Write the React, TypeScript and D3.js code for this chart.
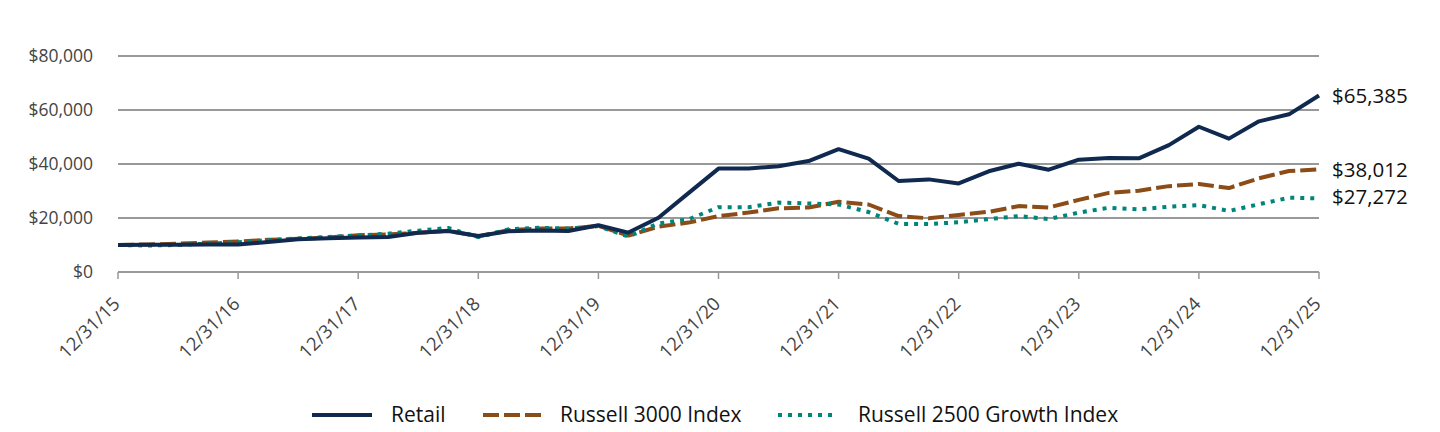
import React from 'react';
import * as d3 from 'd3';

// quarterly values, 12/31/15 .. 12/31/25
const retail = [10000, 10050, 10100, 10200, 10150, 11100, 12100, 12500, 12800, 13000, 14500, 15200, 13300, 15100, 15400, 15200, 17300, 14600, 20100, 29200, 38300, 38300, 39200, 41100, 45500, 42000, 33700, 34300, 32800, 37300, 40100, 37900, 41600, 42200, 42100, 47000, 53800, 49400, 55800, 58400, 65385];
const russell3000 = [10000, 10200, 10500, 10900, 11300, 11900, 12300, 12800, 13600, 13900, 14500, 15300, 13200, 15500, 16100, 16100, 17100, 13500, 16800, 18300, 20700, 22000, 23600, 23900, 26000, 25000, 20700, 19900, 21100, 22300, 24400, 23900, 26700, 29300, 30100, 31800, 32600, 31100, 34700, 37400, 38012];
const russell2500g = [10000, 9800, 10000, 10500, 11000, 11800, 12400, 13000, 13500, 14200, 15300, 16300, 12900, 15800, 16400, 16100, 17000, 13100, 18000, 19500, 24000, 24000, 25700, 25400, 25000, 22200, 17800, 17800, 18400, 19600, 20700, 19600, 22000, 23800, 23200, 24200, 24800, 22600, 25100, 27500, 27272];

const yearLabels = ['12/31/15', '12/31/16', '12/31/17', '12/31/18', '12/31/19', '12/31/20', '12/31/21', '12/31/22', '12/31/23', '12/31/24', '12/31/25'];
const yTicks = [0, 20000, 40000, 60000, 80000];

const series = [
  { name: 'Russell 3000 Index', values: russell3000, color: '#8b4c17', dash: '16 5' },
  { name: 'Russell 2500 Growth Index', values: russell2500g, color: '#00857a', dash: '4 6' },
  { name: 'Retail', values: retail, color: '#10294f', dash: '' },
];

const legendOrder = ['Retail', 'Russell 3000 Index', 'Russell 2500 Growth Index'];
const legendX = [312, 483, 778];
const legendTextX = [391, 560, 858];

const W = 1440, H = 432;
const font = "'Open Sans', sans-serif";

const App: React.FC = () => {
  const x = d3.scaleLinear().domain([0, retail.length - 1]).range([118, 1319]);
  const y = d3.scaleLinear().domain([0, 80000]).range([272, 56]);
  const line = d3.line<number>().x((_, i) => x(i)).y(d => y(d));
  const fmt = (v: number) => '$' + d3.format(',')(Math.round(v));

  const endLabelY: Record<string, number> = {
    'Retail': 103,
    'Russell 3000 Index': 177,
    'Russell 2500 Growth Index': 204,
  };

  return (
    <svg width={W} height={H} style={{ position: 'absolute', left: 0, top: 0 }} fontFamily={font}>
      {/* grid */}
      {yTicks.map(t => (
        <g key={t}>
          {t > 0 && <line x1={x(0)} x2={x(40)} y1={y(t)} y2={y(t)} stroke="#999" strokeWidth={2} />}
          <text x={93} y={y(t)} dy="0.35em" textAnchor="end" fontSize={17.5} fill="#444">{fmt(t)}</text>
        </g>
      ))}
      {/* x axis */}
      <line x1={x(0)} x2={x(40)} y1={y(0)} y2={y(0)} stroke="#999" strokeWidth={2} />
      {yearLabels.map((lab, i) => (
        <g key={lab}>
          <line x1={x(i * 4)} x2={x(i * 4)} y1={y(0)} y2={y(0) + 7} stroke="#999" strokeWidth={1.5} />
          <text transform={`translate(${x(i * 4) + 3},${y(0) + 33}) rotate(-45)`} textAnchor="end" fontSize={18.5} fill="#444">{lab}</text>
        </g>
      ))}
      {/* lines */}
      {series.map(s => (
        <path key={s.name} d={line(s.values) || ''} fill="none" stroke={s.color} strokeWidth={4}
          strokeDasharray={s.dash || undefined} strokeLinejoin="round" />
      ))}
      {/* end labels */}
      {series.map(s => (
        <text key={s.name} x={1332} y={endLabelY[s.name]} fontSize={20.5} fill="#111">{fmt(s.values[s.values.length - 1])}</text>
      ))}
      {/* legend */}
      {legendOrder.map((n, i) => {
        const s = series.find(d => d.name === n)!;
        return (
          <g key={n}>
            <line x1={legendX[i]} x2={legendX[i] + (n === 'Russell 2500 Growth Index' ? 56 : 60)} y1={415} y2={415}
              stroke={s.color} strokeWidth={4} strokeDasharray={s.dash || undefined} />
            <text x={legendTextX[i]} y={415} dy="0.35em" fontSize={21} fill="#111">{n}</text>
          </g>
        );
      })}
    </svg>
  );
};

export default App;
